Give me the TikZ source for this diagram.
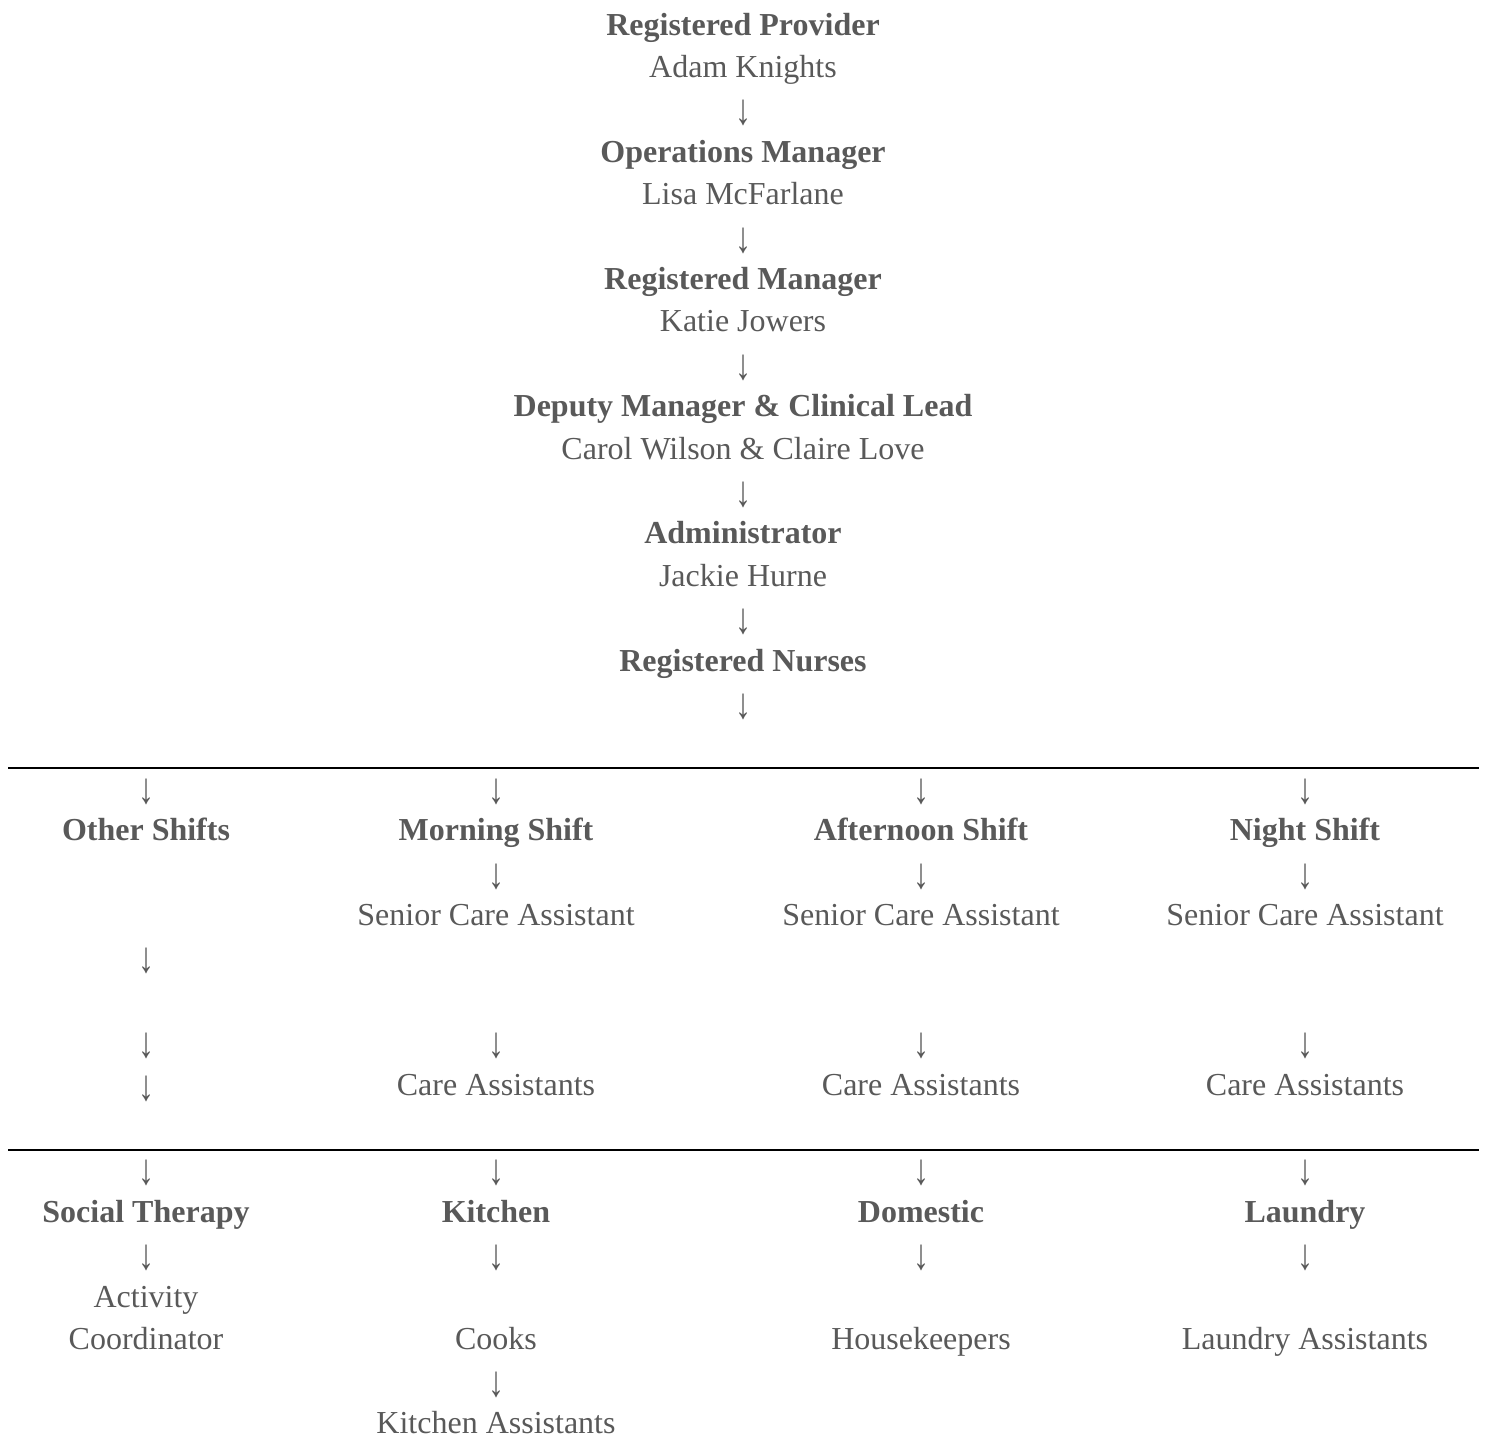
\documentclass[tikz,border=0pt]{standalone}
\usepackage{fontspec}
\usepackage{graphicx}
\setmainfont{Liberation Serif}
\definecolor{textgrey}{HTML}{595959}
\newcommand{\dnarrow}{\raisebox{-5pt}{\scalebox{1}[1.36]{↓}}}
\begin{document}
\begin{tikzpicture}[x=1pt,y=-1pt,
    every node/.style={inner sep=0pt,anchor=base,text=textgrey,
      font=\fontsize{32}{42.4}\selectfont},
    role/.style={font=\fontsize{32}{42.4}\selectfont\bfseries},
    person/.style={},
    arr/.style={}]
        \useasboundingbox (0,0) rectangle (1486,1438);
        % management chain
        \node[role]   (provider)   at (743,  35.0) {Registered Provider};
        \node[person] (adam)       at (743,  77.4) {Adam Knights};
        \node[arr]    (arrtopa)    at (743, 119.8) {\dnarrow};
        \node[role]   (opsmanager) at (743, 162.2) {Operations Manager};
        \node[person] (lisa)       at (743, 204.6) {Lisa McFarlane};
        \node[arr]    (arrtopb)    at (743, 247.0) {\dnarrow};
        \node[role]   (regmanager) at (743, 289.4) {Registered Manager};
        \node[person] (katie)      at (743, 331.8) {Katie Jowers};
        \node[arr]    (arrtopc)    at (743, 374.2) {\dnarrow};
        \node[role]   (deputy)     at (743, 416.6) {Deputy Manager \& Clinical Lead};
        \node[person] (carol)      at (743, 459.0) {Carol Wilson \& Claire Love};
        \node[arr]    (arrtopd)    at (743, 501.4) {\dnarrow};
        \node[role]   (admin)      at (743, 543.8) {Administrator};
        \node[person] (jackie)     at (743, 586.2) {Jackie Hurne};
        \node[arr]    (arrtope)    at (743, 628.6) {\dnarrow};
        \node[role]   (nurses)     at (743, 671.0) {Registered Nurses};
        \node[arr]    (arrtopf)    at (743, 713.4) {\dnarrow};
        % dividing rules
        \coordinate (ruleaL) at (8,    768);
        \coordinate (ruleaR) at (1479, 768);
        \coordinate (rulebL) at (8,   1149.5);
        \coordinate (rulebR) at (1479,1149.5);
        \draw[line width=2pt] (ruleaL) -- (ruleaR);
        \draw[line width=2pt] (rulebL) -- (rulebR);
        % shifts
        \node[arr]    (arrothera)  at (146,  798.2) {\dnarrow};
        \node[role]   (othershift) at (146,  840.6) {Other Shifts};
        \node[arr]    (arrotherb)  at (146,  967.8) {\dnarrow};
        \node[arr]    (arrotherc)  at (146, 1052.6) {\dnarrow};
        \node[arr]    (arrotherd)  at (146, 1095.0) {\dnarrow};
        \node[arr]    (arrmorna)   at (496,  798.2) {\dnarrow};
        \node[role]   (mornshift)  at (496,  840.6) {Morning Shift};
        \node[arr]    (arrmornb)   at (496,  883.0) {\dnarrow};
        \node[person] (mornsenior) at (496,  925.4) {Senior Care Assistant};
        \node[arr]    (arrmornc)   at (496, 1052.6) {\dnarrow};
        \node[person] (morncare)   at (496, 1095.0) {Care Assistants};
        \node[arr]    (arrafta)    at (921,  798.2) {\dnarrow};
        \node[role]   (aftshift)   at (921,  840.6) {Afternoon Shift};
        \node[arr]    (arraftb)    at (921,  883.0) {\dnarrow};
        \node[person] (aftsenior)  at (921,  925.4) {Senior Care Assistant};
        \node[arr]    (arraftc)    at (921, 1052.6) {\dnarrow};
        \node[person] (aftcare)    at (921, 1095.0) {Care Assistants};
        \node[arr]    (arrnighta)  at (1305,  798.2) {\dnarrow};
        \node[role]   (nightshift) at (1305,  840.6) {Night Shift};
        \node[arr]    (arrnightb)  at (1305,  883.0) {\dnarrow};
        \node[person] (nightsenior)at (1305,  925.4) {Senior Care Assistant};
        \node[arr]    (arrnightc)  at (1305, 1052.6) {\dnarrow};
        \node[person] (nightcare)  at (1305, 1095.0) {Care Assistants};
        % departments
        \node[arr]    (arrsociala) at (146, 1179.8) {\dnarrow};
        \node[role]   (social)     at (146, 1222.2) {Social Therapy};
        \node[arr]    (arrsocialb) at (146, 1264.6) {\dnarrow};
        \node[person] (activity)   at (146, 1307.0) {Activity};
        \node[person] (coord)      at (146, 1349.4) {Coordinator};
        \node[arr]    (arrkitcha)  at (496, 1179.8) {\dnarrow};
        \node[role]   (kitchen)    at (496, 1222.2) {Kitchen};
        \node[arr]    (arrkitchb)  at (496, 1264.6) {\dnarrow};
        \node[person] (cooks)      at (496, 1349.4) {Cooks};
        \node[arr]    (arrkitchc)  at (496, 1391.8) {\dnarrow};
        \node[person] (kitchasst)  at (496, 1433.5) {Kitchen Assistants};
        \node[arr]    (arrdoma)    at (921, 1179.8) {\dnarrow};
        \node[role]   (domestic)   at (921, 1222.2) {Domestic};
        \node[arr]    (arrdomb)    at (921, 1264.6) {\dnarrow};
        \node[person] (housekeep)  at (921, 1349.4) {Housekeepers};
        \node[arr]    (arrlaunda)  at (1305, 1179.8) {\dnarrow};
        \node[role]   (laundry)    at (1305, 1222.2) {Laundry};
        \node[arr]    (arrlaundb)  at (1305, 1264.6) {\dnarrow};
        \node[person] (laundasst)  at (1305, 1349.4) {Laundry Assistants};
\end{tikzpicture}
\end{document}
